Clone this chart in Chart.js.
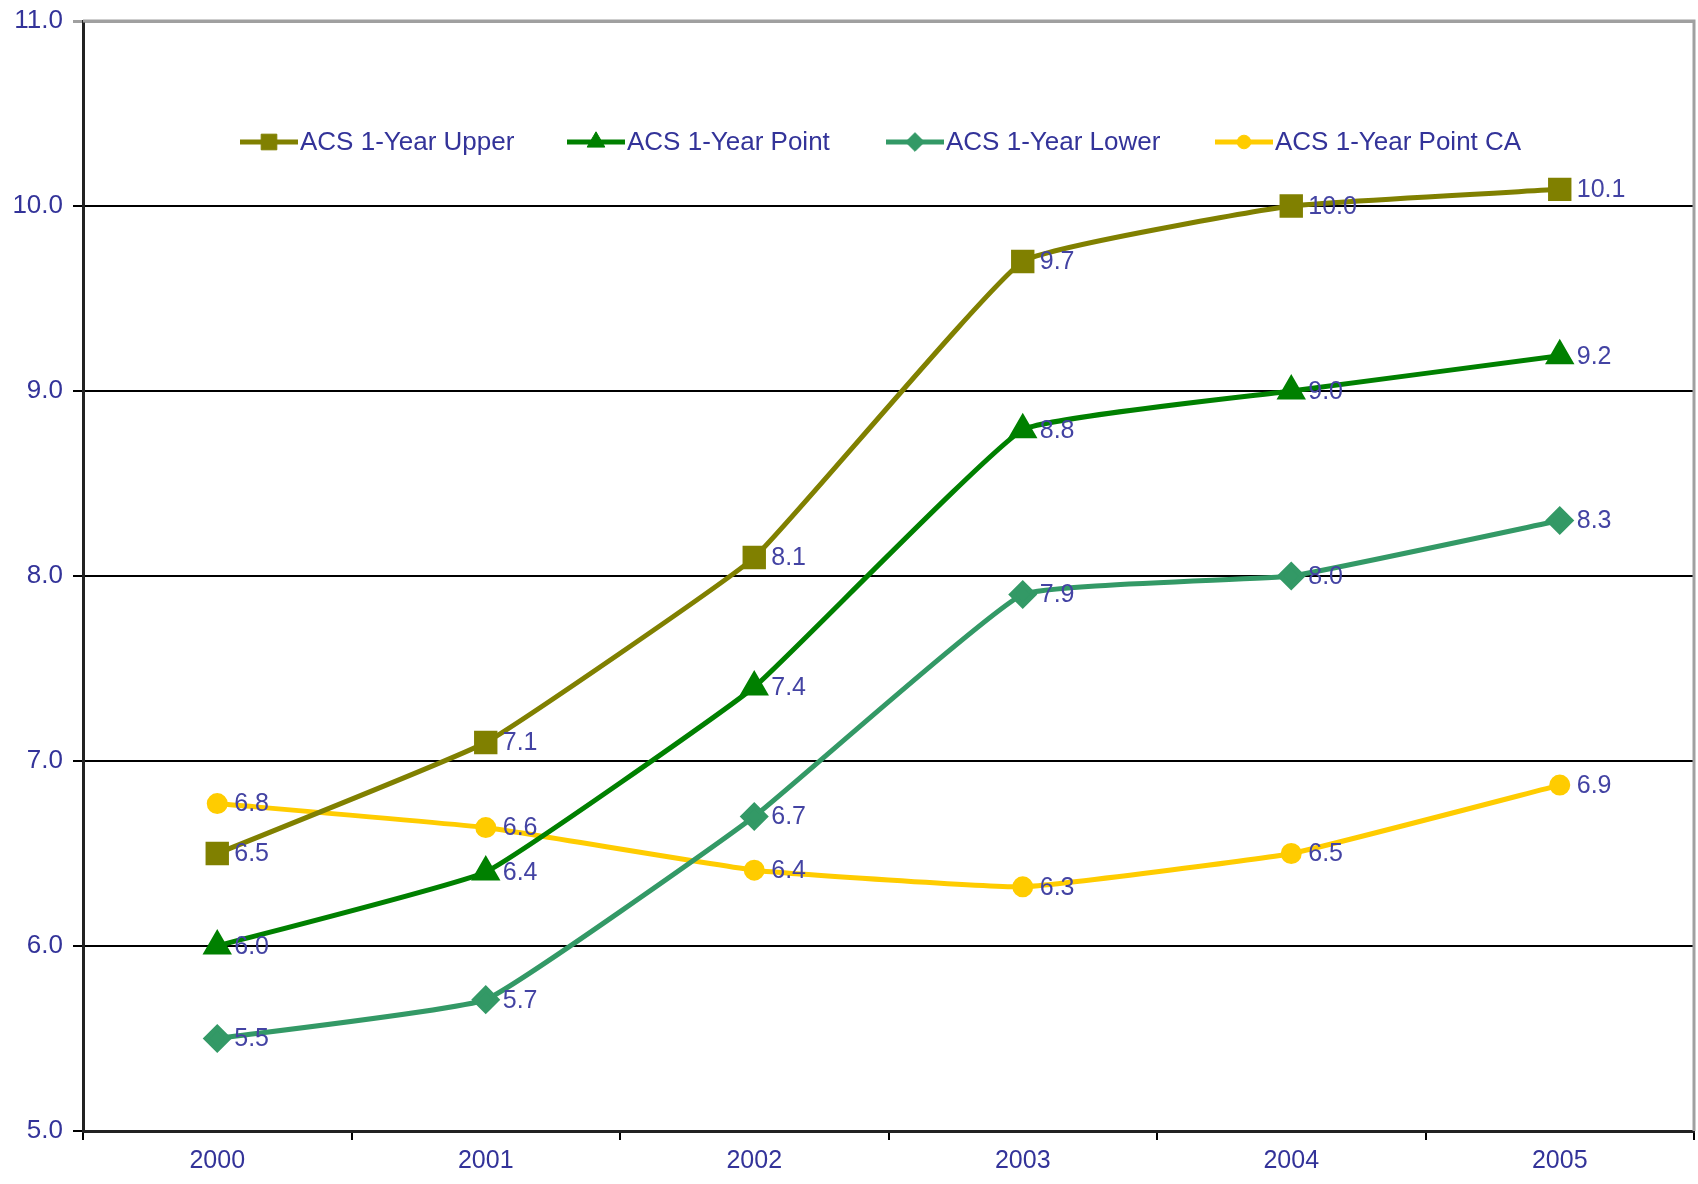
<!DOCTYPE html>
<html>
<head>
<meta charset="utf-8">
<script src="https://cdn.jsdelivr.net/npm/chart.js@4.4.0/dist/chart.umd.min.js"></script>
<style>
  html, body { margin: 0; padding: 0; background: #fff; overflow: hidden; }
</style>
</head>
<body>
<canvas id="acs" width="1698" height="1184"></canvas>
<script>
const years = ["2000", "2001", "2002", "2003", "2004", "2005"];
const upper = [6.5, 7.1, 8.1, 9.7, 10.0, 10.09];
const point = [6.0, 6.4, 7.4, 8.79, 9.0, 9.19];
const lower = [5.5, 5.71, 6.7, 7.9, 8.0, 8.3];
const pointCA = [6.77, 6.64, 6.41, 6.32, 6.5, 6.87];
const yTicks = [5, 6, 7, 8, 9, 10, 11];

const FONT = "'Liberation Sans', Arial, sans-serif";
const TEXT = "#333399";

function makeSet(label, data, color, style, radius) {
  return {
    label: label,
    data: data,
    borderColor: color,
    backgroundColor: color,
    pointBackgroundColor: color,
    pointBorderColor: color,
    pointStyle: style,
    pointRadius: radius,
    pointHoverRadius: radius,
    borderWidth: 5,
    tension: 0.1,
    fill: false,
  };
}

// value labels to the right of each marker
const valueLabels = {
  id: "valueLabels",
  afterDatasetsDraw(chart) {
    const ctx = chart.ctx;
    ctx.save();
    ctx.font = "25px " + FONT;
    ctx.fillStyle = "#4343a3";
    ctx.textAlign = "left";
    ctx.textBaseline = "middle";
    chart.data.datasets.forEach((ds, i) => {
      chart.getDatasetMeta(i).data.forEach((pt, j) => {
        ctx.fillText(ds.data[j].toFixed(1), pt.x + 17, pt.y + 1);
      });
    });
    ctx.restore();
  },
};

// legend inside the plot area, line sample with marker
const innerLegend = {
  id: "innerLegend",
  afterDraw(chart) {
    const ctx = chart.ctx;
    const starts = [240, 567, 886, 1215];
    const y = 142;
    ctx.save();
    ctx.font = "26px " + FONT;
    ctx.textBaseline = "middle";
    ctx.textAlign = "left";
    chart.data.datasets.forEach((ds, i) => {
      const x = starts[i];
      ctx.strokeStyle = ds.borderColor;
      ctx.lineWidth = 5;
      ctx.beginPath();
      ctx.moveTo(x, y);
      ctx.lineTo(x + 58, y);
      ctx.stroke();
      ctx.fillStyle = ds.borderColor;
      ctx.strokeStyle = ds.borderColor;
      ctx.lineWidth = 1;
      Chart.helpers.drawPoint(ctx, { pointStyle: ds.pointStyle, radius: ds.pointRadius * 0.85, borderWidth: 1 }, x + 29, y);
      ctx.fillStyle = TEXT;
      ctx.fillText(ds.label, x + 60, y + 1);
    });
    ctx.restore();
  },
};

// gray frame on top and right of plot area
const frame = {
  id: "frame",
  beforeDatasetsDraw(chart) {
    const a = chart.chartArea;
    const ctx = chart.ctx;
    ctx.save();
    ctx.strokeStyle = "#a0a0a0";
    ctx.lineWidth = 3;
    ctx.beginPath();
    ctx.moveTo(a.left, a.top);
    ctx.lineTo(a.right, a.top);
    ctx.lineTo(a.right, a.bottom);
    ctx.stroke();
    ctx.restore();
  },
};

new Chart(document.getElementById("acs"), {
  type: "line",
  data: {
    labels: years,
    datasets: [
      makeSet("ACS 1-Year Upper", upper, "#808000", "rect", 13),
      makeSet("ACS 1-Year Point", point, "#008000", "triangle", 12),
      makeSet("ACS 1-Year Lower", lower, "#339966", "rectRot", 11),
      makeSet("ACS 1-Year Point CA", pointCA, "#ffcc00", "circle", 8),
    ],
  },
  options: {
    responsive: false,
    animation: false,
    layout: { autoPadding: false, padding: { left: 0, top: 21, right: 4, bottom: 0 } },
    plugins: {
      legend: { display: false },
      tooltip: { enabled: false },
    },
    scales: {
      x: {
        offset: true,
        grid: {
          offset: true,
          drawOnChartArea: false,
          color: "#000",
          lineWidth: 2,
          tickLength: 9,
        },
        border: { color: "#222", width: 3 },
        ticks: {
          color: TEXT,
          font: { family: FONT, size: 25 },
          padding: 6,
        },
        afterFit(scale) {
          scale.height = 53;
          scale.paddingLeft = 0;
          scale.paddingRight = 0;
        },
      },
      y: {
        min: 5,
        max: 11,
        afterBuildTicks(scale) { scale.ticks = yTicks.map(v => ({ value: v })); },
        grid: {
          color: ctx => (ctx.tick && ctx.tick.value === 11 ? "#a0a0a0" : "#000"),
          lineWidth: ctx => (ctx.tick && ctx.tick.value === 11 ? 3 : 2),
          tickLength: 10,
        },
        border: { color: "#222", width: 3 },
        ticks: {
          color: TEXT,
          font: { family: FONT, size: 26 },
          padding: 10,
          callback: v => Number(v).toFixed(1),
        },
        afterFit(scale) {
          scale.width = 83;
          scale.paddingTop = 0;
          scale.paddingBottom = 0;
        },
      },
    },
  },
  plugins: [frame, valueLabels, innerLegend],
});
</script>
</body>
</html>
